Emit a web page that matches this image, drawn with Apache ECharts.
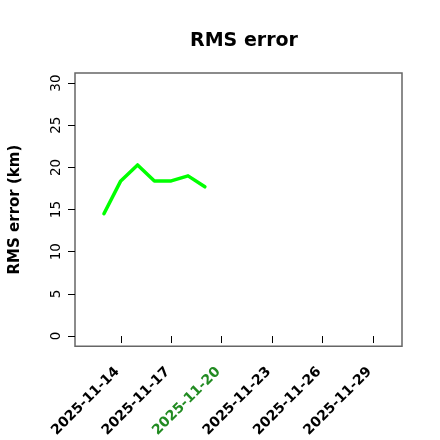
<!DOCTYPE html>
<html>
<head>
<meta charset="utf-8">
<script src="https://cdn.jsdelivr.net/npm/echarts@6/dist/echarts.min.js"></script>
<style>
  html, body { margin: 0; padding: 0; background: #fff; }
  #chart { width: 440px; height: 440px; }
</style>
</head>
<body>
<div id="chart"></div>
<script>
// data
var dates = ["2025-11-13", "2025-11-14", "2025-11-15", "2025-11-16", "2025-11-17", "2025-11-18", "2025-11-19"];
var rmsValues = [14.5, 18.4, 20.3, 18.4, 18.4, 19.0, 17.7];
var xTickDates = ["2025-11-14", "2025-11-17", "2025-11-20", "2025-11-23", "2025-11-26", "2025-11-29"];
var highlightDate = "2025-11-20";
var yTicks = [0, 5, 10, 15, 20, 25, 30];

// x is days since 2025-10-31 (so day-of-month)
var base = Date.UTC(2025, 10, 0);
function toDay(s) {
  return (Date.parse(s) - base) / 86400000;
}
function fromDay(d) {
  var t = new Date(base + Math.round(d) * 86400000);
  var m = t.getUTCMonth() + 1, dd = t.getUTCDate();
  return t.getUTCFullYear() + "-" + (m < 10 ? "0" + m : m) + "-" + (dd < 10 ? "0" + dd : dd);
}

var seriesData = dates.map(function(d, i) {
  return [toDay(d), rmsValues[i]];
});
var xTicks = xTickDates.map(toDay);

var chart = echarts.init(document.getElementById("chart"));
chart.setOption({
  animation: false,
  title: {
    text: "RMS error",
    left: 239,
    top: 27,
    textAlign: "center",
    textStyle: {
      fontFamily: "DejaVu Sans",
      fontWeight: "bold",
      fontSize: 19,
      color: "#000"
    }
  },
  grid: {
    left: 73.5,
    right: 38,
    top: 73,
    bottom: 92,
    show: true,
    borderColor: "#666",
    borderWidth: 1.5
  },
  xAxis: {
    type: "value",
    min: 11.28,
    max: 30.72,
    splitLine: { show: false },
    axisLine: { show: false },
    axisTick: {
      show: true,
      length: 7,
      customValues: xTicks,
      lineStyle: { color: "#000", width: 1 }
    },
    axisLabel: {
      customValues: xTicks,
      rotate: 45,
      margin: 20,
      fontFamily: "DejaVu Sans",
      fontWeight: "bold",
      fontSize: 14,
      formatter: function(v) {
        // trailing space nudges the label a little down-left, like R's placement
        return fromDay(v) + " ";
      },
      color: function(v) {
        return fromDay(v) === highlightDate ? "#228B22" : "#000";
      }
    }
  },
  yAxis: {
    type: "value",
    min: -1.2,
    max: 31.2,
    name: "RMS error (km)",
    nameLocation: "middle",
    nameGap: 52,
    nameTextStyle: {
      fontFamily: "DejaVu Sans",
      fontWeight: "bold",
      fontSize: 15,
      color: "#000"
    },
    splitLine: { show: false },
    axisLine: { show: false },
    axisTick: {
      show: true,
      length: 7,
      customValues: yTicks,
      lineStyle: { color: "#000", width: 1 }
    },
    axisLabel: {
      customValues: yTicks,
      rotate: 90,
      margin: 12,
      fontFamily: "DejaVu Sans",
      fontSize: 13.5,
      color: "#000"
    }
  },
  series: [
    {
      type: "line",
      data: seriesData,
      showSymbol: false,
      lineStyle: {
        color: "#00ff00",
        width: 3.5,
        cap: "round",
        join: "round"
      }
    }
  ]
});
</script>
</body>
</html>
